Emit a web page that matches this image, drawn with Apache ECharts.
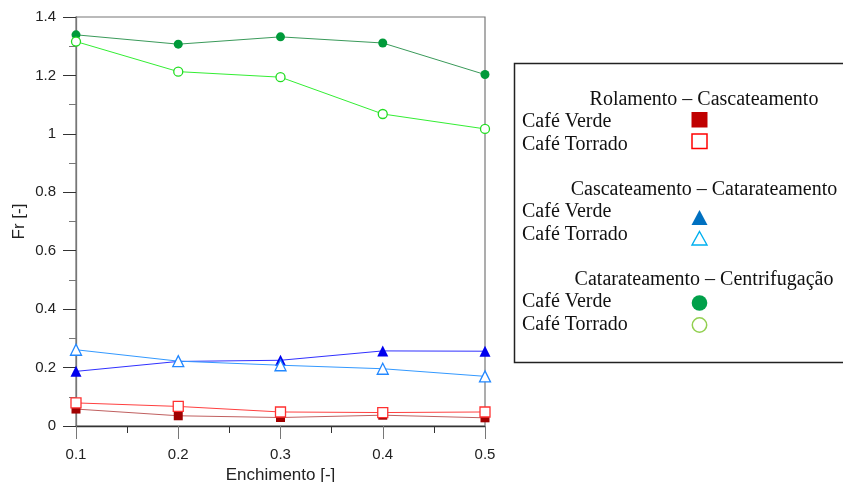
<!DOCTYPE html>
<html><head><meta charset="utf-8">
<script src="https://cdn.jsdelivr.net/npm/echarts@6/dist/echarts.min.js"></script>
<style>html,body{margin:0;padding:0;background:#fff}#c{width:843px;height:482px}</style>
</head><body><div id="c"></div>
<script>
const enchimento = [0.1, 0.2, 0.3, 0.4, 0.5];
const rcVerde   = [0.058, 0.035, 0.029, 0.037, 0.028];
const rcTorrado = [0.079, 0.067, 0.048, 0.046, 0.048];
const ccVerde   = [0.187, 0.221, 0.225, 0.257, 0.256];
const ccTorrado = [0.261, 0.222, 0.208, 0.196, 0.170];
const cfVerde   = [1.339, 1.307, 1.332, 1.311, 1.203];
const cfTorrado = [1.316, 1.213, 1.194, 1.068, 1.017];
const groupTitles = ['Rolamento – Cascateamento', 'Cascateamento – Catarateamento', 'Catarateamento – Centrifugação'];
const itemNames = ['Café Verde', 'Café Torrado'];

const pair = ys => enchimento.map((x, i) => [x, ys[i]]);
const fmt = v => String(+v.toFixed(1));

function mk(name, ys, symbol, size, lineColor, markColor, hollow) {
  return {
    name, type: 'line', data: pair(ys), symbol, symbolSize: size,
    lineStyle: { color: lineColor, width: 1 },
    itemStyle: hollow ? { color: '#fff', borderColor: markColor, borderWidth: 1.3 } : { color: markColor, borderWidth: 0 },
    emphasis: { disabled: true }, animation: false, z: hollow ? 3 : 2
  };
}

const serif = '"Liberation Serif", "Times New Roman", serif';
const sans = '"Liberation Sans", Arial, sans-serif';
const FONT = '20px ' + serif;
const txt = (x, y, t) => ({ type: 'text', x, y, style: { text: t, font: FONT, fill: '#111', verticalAlign: 'middle' } });
const ttl = (y, t) => ({ type: 'text', x: 704, y, style: { text: t, font: FONT, fill: '#111', align: 'center', verticalAlign: 'middle' } });
const mx = 699.5;
const graphic = [
  { type: 'rect', shape: { x: 514.5, y: 63.5, width: 340, height: 299 }, style: { fill: 'none', stroke: '#222', lineWidth: 1.5 } },
  ttl(100, groupTitles[0]),
  txt(522, 122, itemNames[0]), txt(522, 145, itemNames[1]),
  { type: 'rect', shape: { x: mx - 8, y: 112, width: 16, height: 15.5 }, style: { fill: '#c00000' } },
  { type: 'rect', shape: { x: mx - 7.5, y: 134, width: 15, height: 14.5 }, style: { fill: '#fff', stroke: '#ff0000', lineWidth: 1.5 } },
  ttl(190, groupTitles[1]),
  txt(522, 212, itemNames[0]), txt(522, 235, itemNames[1]),
  { type: 'polygon', shape: { points: [[mx, 210], [mx + 8, 225], [mx - 8, 225]] }, style: { fill: '#0070c0' } },
  { type: 'polygon', shape: { points: [[mx, 231.5], [mx + 7.5, 245], [mx - 7.5, 245]] }, style: { fill: '#fff', stroke: '#00b0f0', lineWidth: 1.4 } },
  ttl(280, groupTitles[2]),
  txt(522, 302, itemNames[0]), txt(522, 325, itemNames[1]),
  { type: 'circle', shape: { cx: mx, cy: 303, r: 7.8 }, style: { fill: '#00a04a' } },
  { type: 'circle', shape: { cx: mx, cy: 325, r: 7.2 }, style: { fill: '#fff', stroke: '#92d050', lineWidth: 1.5 } }
];

const chart = echarts.init(document.getElementById('c'), null, { renderer: 'canvas' });
chart.setOption({
  animation: false,
  backgroundColor: '#fff',
  grid: { left: 76, right: 358, top: 17, bottom: 56, show: true, borderColor: '#777', borderWidth: 1.2, containLabel: false, outerBoundsMode: 'none' },
  xAxis: {
    type: 'value', min: 0.1, max: 0.5, interval: 0.1,
    name: 'Enchimento [-]', nameLocation: 'middle', nameGap: 41,
    nameTextStyle: { fontFamily: sans, fontSize: 17, color: '#222' },
    axisLine: { show: true, lineStyle: { color: '#333', width: 1.3 } },
    axisTick: { show: true, length: 13, lineStyle: { color: '#777' } },
    minorTick: { show: true, splitNumber: 2, length: 7, lineStyle: { color: '#333' } },
    splitLine: { show: false },
    axisLabel: { formatter: fmt, margin: 21, fontFamily: sans, fontSize: 15, color: '#222' }
  },
  yAxis: {
    type: 'value', min: 0, max: 1.4, interval: 0.2,
    name: 'Fr [-]', nameLocation: 'middle', nameGap: 48,
    nameTextStyle: { fontFamily: sans, fontSize: 17, color: '#222' },
    axisLine: { show: true, lineStyle: { color: '#777', width: 1.3 } },
    axisTick: { show: true, length: 13, lineStyle: { color: '#333' } },
    minorTick: { show: true, splitNumber: 2, length: 7, lineStyle: { color: '#777' } },
    splitLine: { show: false },
    axisLabel: { formatter: fmt, margin: 20, fontFamily: sans, fontSize: 15, color: '#222' }
  },
  series: [
    mk('RC Verde', rcVerde, 'rect', 9, '#c06060', '#a00000', false),
    mk('RC Torrado', rcTorrado, 'rect', 10, '#ff4040', '#ff3030', true),
    mk('CC Verde', ccVerde, 'triangle', 11, '#3030ff', '#0000ee', false),
    mk('CC Torrado', ccTorrado, 'triangle', 11, '#3399ff', '#2288ff', true),
    mk('CF Verde', cfVerde, 'circle', 9, '#3a9a5a', '#009a3a', false),
    mk('CF Torrado', cfTorrado, 'circle', 9, '#33ee33', '#22dd22', true)
  ],
  graphic
});
</script></body></html>
